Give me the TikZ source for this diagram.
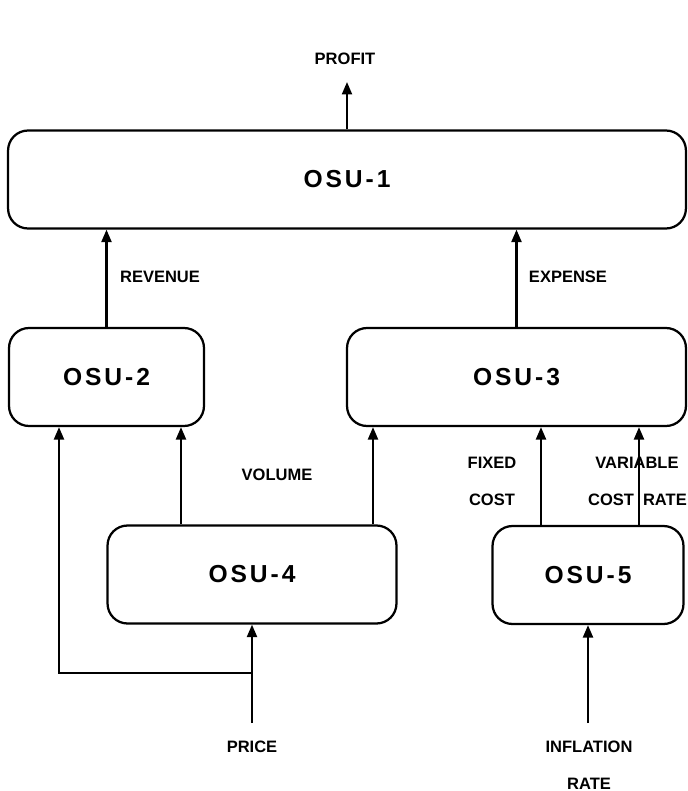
\documentclass[tikz,border=0pt]{standalone}
\usepackage{fontspec}
\setmainfont{Liberation Sans}
\newfontfamily\osufont[LetterSpace=12]{Liberation Sans}
\usetikzlibrary{arrows.meta}

\tikzset{
  osubox/.style={draw, rounded corners=0.4cm, line width=0.045cm, inner sep=0pt,
    minimum height=1.96cm, font=\osufont\bfseries\fontsize{14}{16}\selectfont},
  flow/.style={line width=0.045cm, -{Triangle[length=0.25cm,width=0.2cm]}},
  lbl/.style={font=\bfseries\fontsize{9.4}{10}\selectfont, inner sep=0pt}
}

\begin{document}
\begin{tikzpicture}[x=0.02cm,y=-0.02cm]
\useasboundingbox (0,0) rectangle (687,791);

% boxes
\node[osubox, minimum width=13.56cm] at (347,179.5) (osu1){OSU-1};
\node[osubox, minimum width=3.9cm] at (106.5,377) (osu2){OSU-2};
\node[osubox, minimum width=6.78cm] at (516.5,377) (osu3){OSU-3};
\node[osubox, minimum width=5.78cm] at (252,574.5) (osu4){OSU-4};
\node[osubox, minimum width=3.82cm] at (588,575) (osu5){OSU-5};

% labels
\node[lbl] at (345,59) (profit){PROFIT};
\node[lbl] at (160,277) (revenue){REVENUE};
\node[lbl] at (568,277) (expense){EXPENSE};
\node[lbl] at (277,475) (volume){VOLUME};
\node[lbl] at (492,463) (fixed){FIXED};
\node[lbl] at (492,500) (fixedcost){COST};
\node[lbl] at (637,463) (variable){VARIABLE};
\node[lbl] at (637.5,500) (costrate){COST\hspace{0.18cm}RATE};
\node[lbl] at (252,747) (price){PRICE};
\node[lbl] at (589,747) (inflation){INFLATION};
\node[lbl] at (589,784) (infrate){RATE};

\coordinate (profittip) at (347,82);
\coordinate (pricein) at (252,723);
\coordinate (pricejoin) at (252,673);
\coordinate (inflin) at (588,723);

\draw[flow] (osu1.north) -- (profittip); % profit out
\draw[flow] (osu2.north) -- (osu1.south -| osu2.north); % revenue
\draw[flow] (osu3.north) -- (osu1.south -| osu3.north); % expense
\draw[flow] (osu4.north -| 181,0) -- (osu2.south -| 181,0); % volume
\draw[flow] (osu4.north -| 373,0) -- (osu3.south -| 373,0);
\draw[flow] (osu5.north -| 541,0) -- (osu3.south -| 541,0); % fixed cost
\draw[flow] (osu5.north -| 639,0) -- (osu3.south -| 639,0); % variable cost rate
\draw[flow] (pricein) -- (osu4.south); % price
\draw[flow] (pricejoin) -| (osu2.south -| 59,0);
\draw[flow] (inflin) -- (osu5.south); % inflation rate

\end{tikzpicture}
\end{document}
